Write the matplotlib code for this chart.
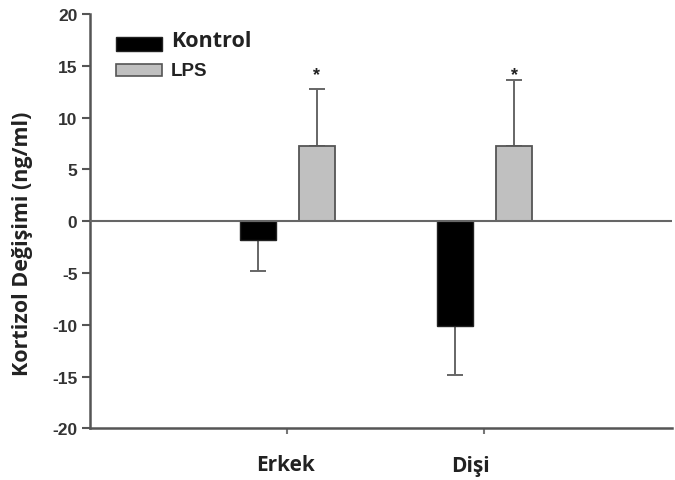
import matplotlib
matplotlib.use("Agg")
import matplotlib.pyplot as plt
from matplotlib.patches import Rectangle
import matplotlib.transforms as mtransforms
import numpy as np

groups = ["Erkek", "Dişi"]
series = ["Kontrol", "LPS"]
kontrol_mean = [-1.8, -10.1]
kontrol_se = [3.0, 4.8]
lps_mean = [7.25, 7.25]
lps_se = [5.5, 6.4]
lps_sig = ["*", "*"]
yticks = [-20, -15, -10, -5, 0, 5, 10, 15, 20]

fig = plt.figure(figsize=(6.75, 4.81), dpi=100)
ax = fig.add_axes([0.1333, 0.1075, 0.862, 0.861])

x = np.array([1.0, 2.0])
w = 0.182
off = 0.15
edge = "#555555"
label_font = "Open Sans"

ax.bar(x - off, kontrol_mean, width=w, color="black", edgecolor="#222222",
       linewidth=1.0, zorder=3)
ax.bar(x + off, lps_mean, width=w, color="#c0c0c0", edgecolor=edge,
       linewidth=1.3, zorder=3)

# one-sided error bars, pointing away from zero
ax.errorbar(x - off, kontrol_mean, yerr=[kontrol_se, [0, 0]], fmt="none",
            ecolor="#666666", elinewidth=1.4, capsize=6, capthick=1.4, zorder=2)
ax.errorbar(x + off, lps_mean, yerr=[[0, 0], lps_se], fmt="none",
            ecolor="#666666", elinewidth=1.4, capsize=6, capthick=1.4, zorder=2)

star_y = max(m + s for m, s in zip(lps_mean, lps_se)) + 0.5
for xi, t in zip(x + off, lps_sig):
    ax.text(xi, star_y, t, ha="center", va="center", fontsize=13,
            fontweight="bold", color="#222222", family="Liberation Sans")

ax.axhline(0, color="#666666", linewidth=1.5, zorder=4)

ax.set_xlim(0, 2.95)
ax.set_ylim(-20, 20)
ax.set_yticks(yticks)
ax.set_yticklabels([str(v) for v in yticks], fontsize=12.5, fontweight="bold",
                   family="Liberation Sans", color="#333333")
ax.set_xticks(x)
ax.set_xticklabels([])
ax.tick_params(axis="y", direction="out", length=6, width=1.5, color="#555555", pad=3)
ax.tick_params(axis="x", direction="out", length=4, width=1.5, color="#777777")

for sp in ["top", "right"]:
    ax.spines[sp].set_visible(False)
for sp in ["left", "bottom"]:
    ax.spines[sp].set_color("#555555")
    ax.spines[sp].set_linewidth(1.8)

# group names under the axis
trans = mtransforms.blended_transform_factory(ax.transData, ax.transAxes)
ax.text(x[0] - 0.01, -0.1, groups[0], ha="center", va="baseline", fontsize=15,
        fontweight="bold", family=label_font, color="#222222", transform=trans)
ax.text(x[1] - 0.07, -0.104, groups[1], ha="center", va="baseline", fontsize=15,
        fontweight="bold", family=label_font, color="#222222", transform=trans)

ax.set_ylabel("Kortizol Değişimi (ng/ml)", fontsize=15.5, fontweight="bold",
              family=label_font, color="#222222")
ax.yaxis.set_label_coords(-0.098, 0.447)

# legend drawn as swatches with labels
ax.add_patch(Rectangle((0.132, 16.4), 0.233, 1.4, facecolor="black",
                       edgecolor="#222222", lw=1.0, clip_on=False, zorder=5))
ax.add_patch(Rectangle((0.132, 14.0), 0.233, 1.2, facecolor="#c0c0c0",
                       edgecolor=edge, lw=1.2, clip_on=False, zorder=5))
ax.text(0.41, 17.45, series[0], ha="left", va="center", fontsize=15.5,
        fontweight="bold", family=label_font, color="#222222")
ax.text(0.41, 14.6, series[1], ha="left", va="center", fontsize=13.5,
        fontweight="bold", family="Liberation Sans", color="#222222")

fig.savefig("out.png", dpi=100, facecolor="white")
